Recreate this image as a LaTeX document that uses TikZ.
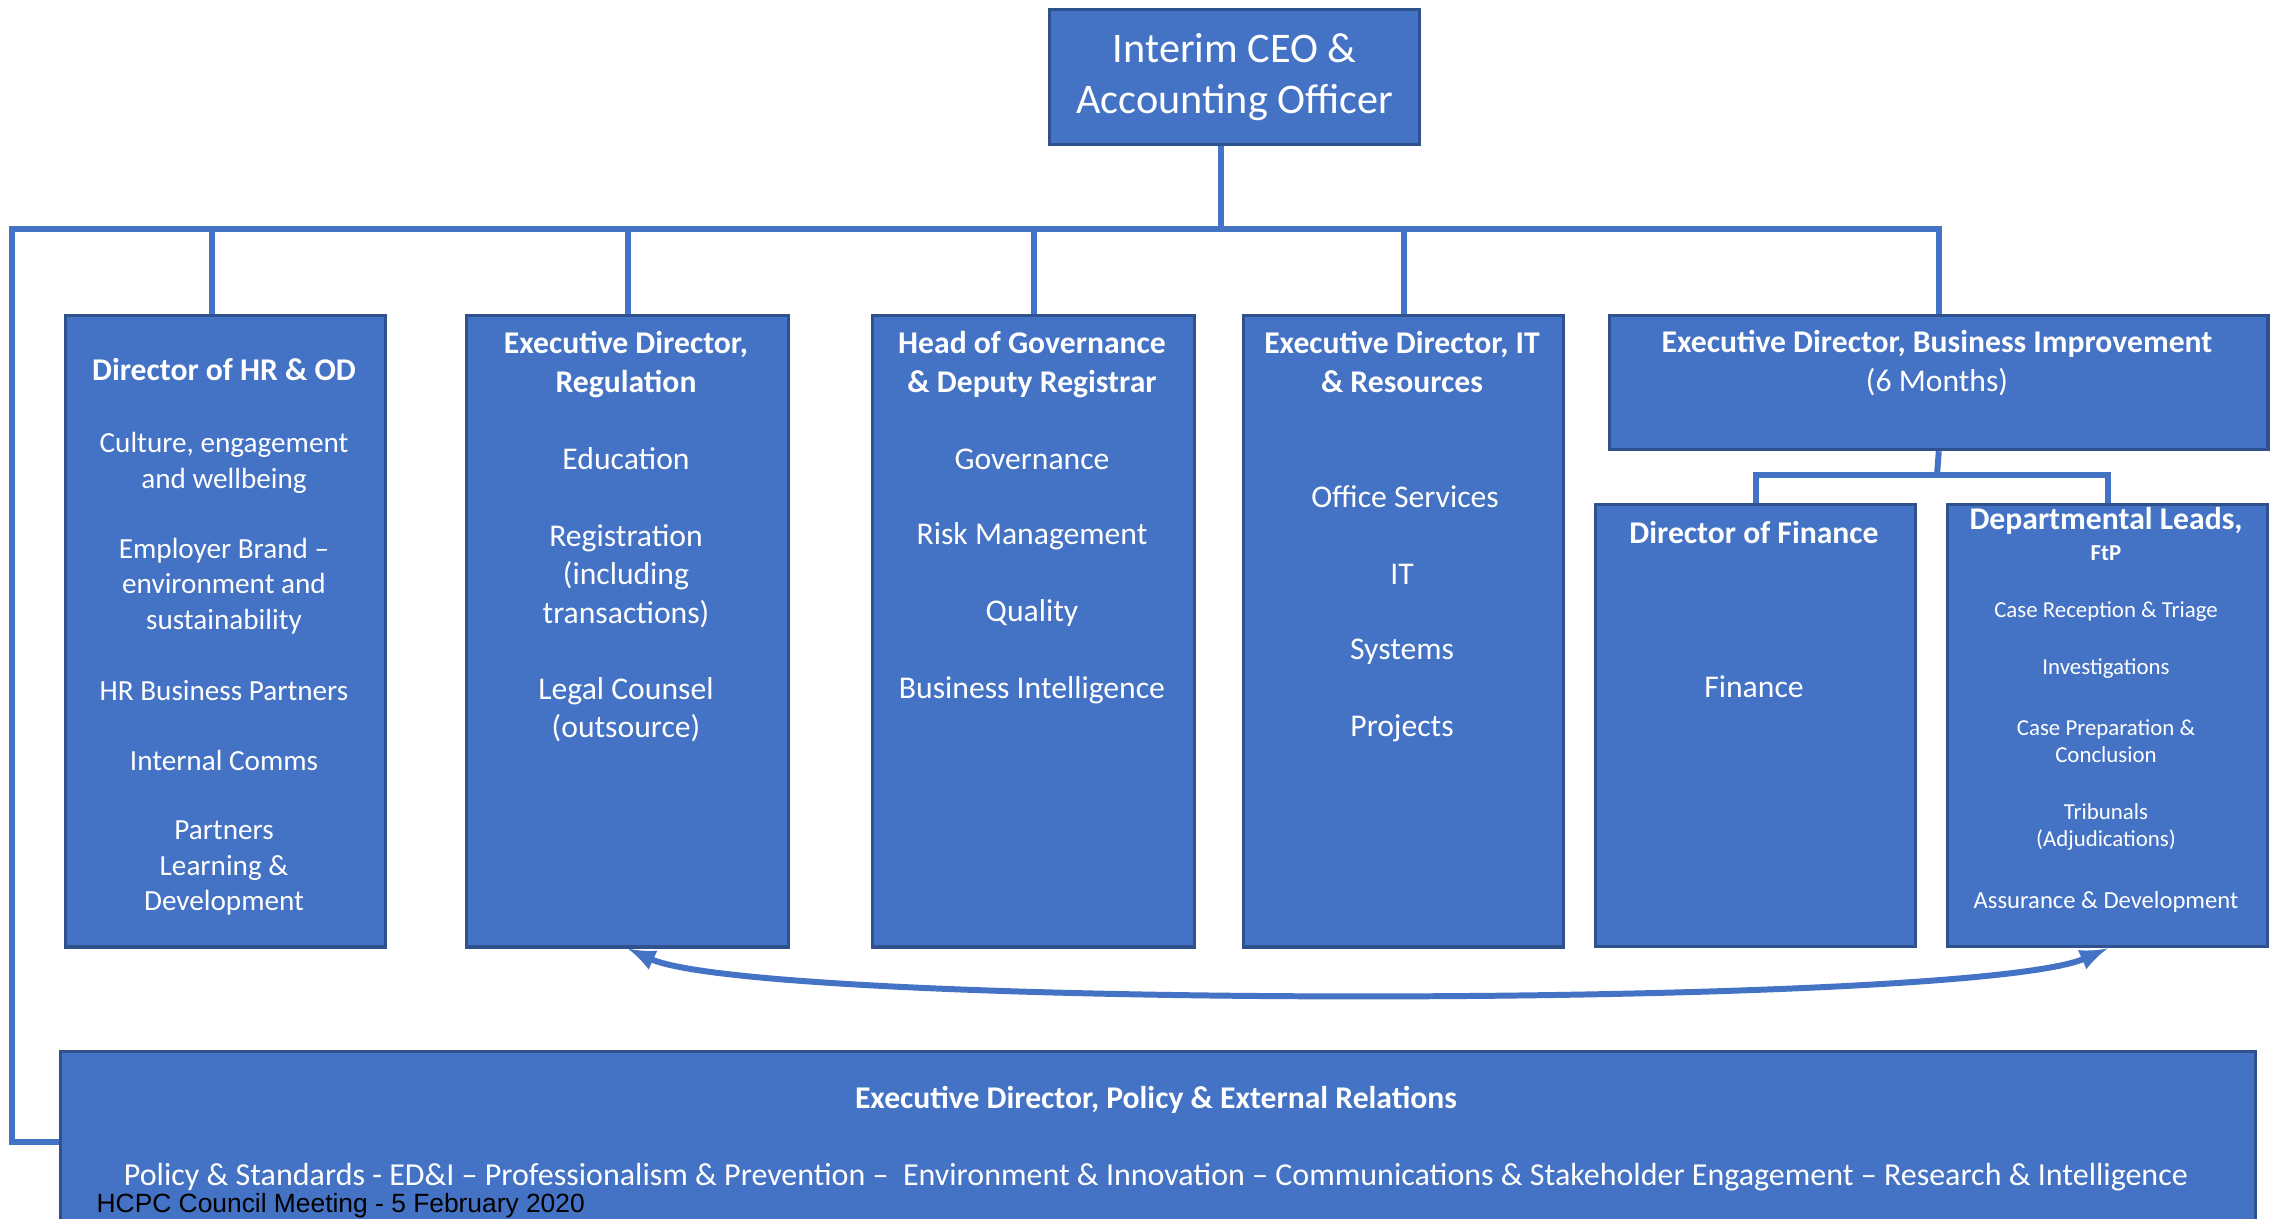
\documentclass[tikz,border=0pt]{standalone}
\usepackage{fontspec}
\setmainfont{Carlito}
\newfontfamily\footfont{Liberation Sans}
\usepackage{tikz}
\usepackage{xcolor}
\usetikzlibrary{positioning, arrows}
\definecolor{boxblue}{HTML}{4472C4}
\definecolor{boxedge}{HTML}{2F528F}
\tikzset{
  box/.style={draw=boxedge, fill=boxblue, line width=0.9pt, anchor=north west, inner sep=0pt},
  link/.style={draw=boxblue, line width=1.7pt},
  txt/.style={text=white, align=center, inner sep=0pt, font=\fontsize{9}{10.9}\selectfont},
  ttl/.style={txt, font=\fontsize{9}{11.1}\selectfont\bfseries},
  hrtxt/.style={txt, font=\fontsize{8.3}{10.1}\selectfont},
  ftptxt/.style={txt, font=\fontsize{6.5}{7.8}\selectfont}
}

\begin{document}
\begin{tikzpicture}[x=0.01cm, y=-0.01cm]
\useasboundingbox (0,0) rectangle (2272,1219);
\clip (0,0) rectangle (2272,1219);

% boxes
\node[box, minimum width=3.70cm, minimum height=1.35cm, text=white, align=center,
  font=\fontsize{12}{14.4}\selectfont] (ceo) at (1048,8) {Interim CEO \&\\Accounting Officer};
\node[box, minimum width=3.20cm, minimum height=6.31cm] (hr) at (64,314) {};
\node[box, minimum width=3.22cm, minimum height=6.31cm] (reg) at (465,314) {};
\node[box, minimum width=3.22cm, minimum height=6.31cm] (gov) at (871,314) {};
\node[box, minimum width=3.20cm, minimum height=6.31cm] (it) at (1242,314) {};
\node[box, minimum width=6.58cm, minimum height=1.34cm] (bi) at (1608,314) {};
\node[box, minimum width=3.20cm, minimum height=4.42cm] (fin) at (1594,503) {};
\node[box, minimum width=3.20cm, minimum height=4.42cm] (ftp) at (1946,503) {};
\node[box, minimum width=21.94cm, minimum height=1.80cm] (pol) at (59,1050) {};

% connectors
\coordinate (busL) at (12,229);
\coordinate (ceoB) at (1221,229);
\coordinate (hrB) at (212,229);
\coordinate (subB) at (1937,475);
\draw[link] (ceo.south -| ceoB) -- (ceoB);
\draw[link] (pol.west) -| (busL) -- (busL -| bi.north) -- (bi.north);
\draw[link] (hrB) -- (hrB |- hr.north);
\draw[link] (reg.north) -- (reg.north |- busL);
\draw[link] (gov.north) -- (gov.north |- busL);
\draw[link] (it.north) -- (it.north |- busL);
\draw[link] (bi.south) -- (subB);
\draw[link] (fin.north) |- (subB) -| (ftp.north);
\draw[link, latex-latex] (reg.south) .. controls (760,1009) and (1970,1009) .. (ftp.south);

% HR & OD
\node[ttl] (hrT) at (224,370) {Director of HR \& OD};
\node[hrtxt] (hr1) at (224,463) {Culture, engagement\\and wellbeing};
\node[hrtxt] (hr2) at (224,586) {Employer Brand –\\environment and\\sustainability};
\node[hrtxt] (hr3) at (224,691) {HR Business Partners};
\node[hrtxt] (hr4) at (224,760) {Internal Comms};
\node[hrtxt] (hr5) at (224,868) {Partners\\Learning \&\\Development};

% Regulation
\node[ttl] (regT) at (626,365) {Executive Director,\\Regulation};
\node[txt] (reg1) at (626,459) {Education};
\node[txt] (reg2) at (626,576) {Registration\\(including\\transactions)};
\node[txt] (reg3) at (626,710) {Legal Counsel\\(outsource)};

% Governance
\node[ttl] (govT) at (1032,365) {Head of Governance\\\& Deputy Registrar};
\node[txt] (gov1) at (1032,459) {Governance};
\node[txt] (gov2) at (1032,536) {Risk Management};
\node[txt] (gov3) at (1032,613) {Quality};
\node[txt] (gov4) at (1032,690) {Business Intelligence};

% IT & Resources
\node[ttl] (itT) at (1402,362) {Executive Director, IT\\\& Resources};
\node[txt] (it1) at (1405,497) {Office Services};
\node[txt] (it2) at (1402,574) {IT};
\node[txt] (it3) at (1402,652) {Systems};
\node[txt] (it4) at (1402,728) {Projects};

% Business Improvement
\node[ttl] (biT) at (1937,344) {Executive Director, Business Improvement};
\node[txt] (bi1) at (1937,382) {(6 Months)};

% Finance
\node[ttl] (finT) at (1754,533) {Director of Finance};
\node[txt] (fin1) at (1754,687) {Finance};

% FtP
\node[ttl] (ftpT) at (2106,521) {Departmental Leads,};
\node[ftptxt, font=\fontsize{6.5}{7.8}\selectfont\bfseries] (ftpS) at (2106,553) {FtP};
\node[ftptxt] (ftp1) at (2106,612) {Case Reception \& Triage};
\node[ftptxt] (ftp2) at (2106,669) {Investigations};
\node[ftptxt] (ftp3) at (2106,741) {Case Preparation \&\\Conclusion};
\node[ftptxt] (ftp4) at (2106,827) {Tribunals\\(Adjudications)};
\node[ftptxt, font=\fontsize{7}{8.4}\selectfont] (ftp5) at (2106,902) {Assurance \& Development};

% Policy & External Relations
\node[ttl] (polT) at (1156,1100) {Executive Director, Policy \& External Relations};
\node[txt, font=\fontsize{9.1}{11}\selectfont] (pol1) at (1156,1177) {Policy \& Standards - ED\&I – Professionalism \& Prevention –\ \ Environment \& Innovation – Communications \& Stakeholder Engagement – Research \& Intelligence};
\node[anchor=west, inner sep=0pt, font=\footfont\fontsize{7.5}{9}\selectfont] (foot) at (96,1206) {HCPC Council Meeting - 5 February 2020};
\end{tikzpicture}
\end{document}
